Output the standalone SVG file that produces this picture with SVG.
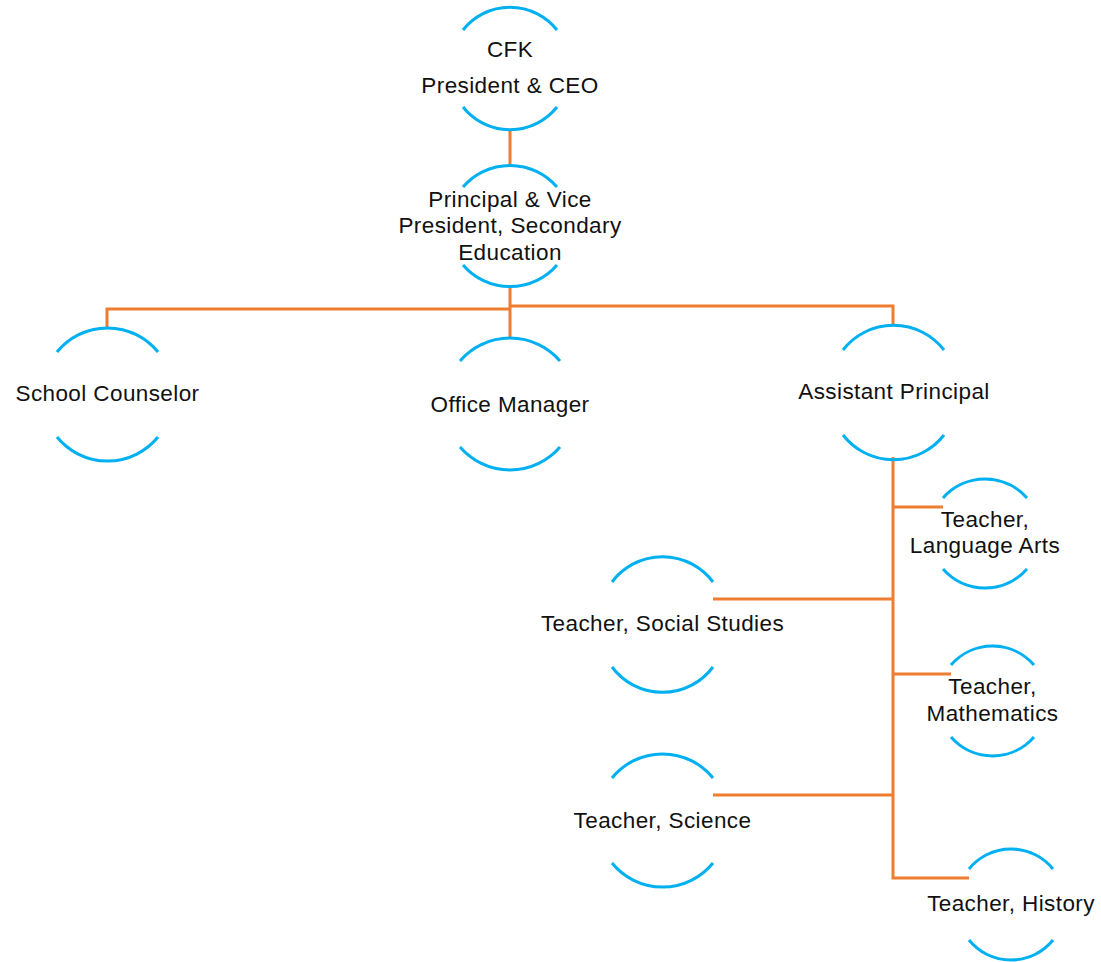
<svg xmlns="http://www.w3.org/2000/svg" width="1101" height="962" viewBox="0 0 1101 962">
<style>
.arc{fill:none;stroke:#00B0F0;stroke-width:3}
.con{fill:none;stroke:#ED7D31;stroke-width:3}
text{font-family:"Liberation Sans",Arial,sans-serif;font-size:22.5px;letter-spacing:0.4px;fill:#111;text-anchor:middle}
</style>
<rect width="1101" height="962" fill="#fff"/>
<g id="connectors">
<path class="con" d="M510 129V166"/>
<path class="con" d="M510 288V338"/>
<path class="con" d="M510 309H107V328"/>
<path class="con" d="M510 306H893V326"/>
<path class="con" d="M893 457V878H969"/>
<path class="con" d="M893 507H943"/>
<path class="con" d="M893 599H713"/>
<path class="con" d="M893 674H951"/>
<path class="con" d="M893 795H713"/>
</g>
<g id="n-cfk">
<path class="arc" d="M463 30A60 60 0 0 1 557 30"/>
<path class="arc" d="M463 107A60 60 0 0 0 557 107"/>
<text x="510" y="57">CFK</text>
<text x="510" y="93">President &amp; CEO</text>
</g>
<g id="n-principal">
<path class="arc" d="M463 187A62 62 0 0 1 557 187"/>
<path class="arc" d="M463 265A62 62 0 0 0 557 265"/>
<text x="510" y="207">Principal &amp; Vice</text>
<text x="510" y="233">President, Secondary</text>
<text x="510" y="260">Education</text>
</g>
<g id="n-counselor">
<path class="arc" d="M57 352A65 65 0 0 1 158 352"/>
<path class="arc" d="M57 437A65 65 0 0 0 158 437"/>
<text x="107.5" y="401">School Counselor</text>
</g>
<g id="n-office">
<path class="arc" d="M460 361A66 66 0 0 1 560 361"/>
<path class="arc" d="M460 447A66 66 0 0 0 560 447"/>
<text x="510" y="412">Office Manager</text>
</g>
<g id="n-assistant">
<path class="arc" d="M843 350A64 64 0 0 1 944 350"/>
<path class="arc" d="M843 435A64 64 0 0 0 944 435"/>
<text x="894" y="399">Assistant Principal</text>
</g>
<g id="n-language">
<path class="arc" d="M943 498A56 56 0 0 1 1027 498"/>
<path class="arc" d="M943 569A56 56 0 0 0 1027 569"/>
<text x="985" y="527">Teacher,</text>
<text x="985" y="553">Language Arts</text>
</g>
<g id="n-social">
<path class="arc" d="M612 582A63 63 0 0 1 713 582"/>
<path class="arc" d="M612 667A63 63 0 0 0 713 667"/>
<text x="662.5" y="631">Teacher, Social Studies</text>
</g>
<g id="n-math">
<path class="arc" d="M951 665A55 55 0 0 1 1034 665"/>
<path class="arc" d="M951 737A55 55 0 0 0 1034 737"/>
<text x="992.5" y="694">Teacher,</text>
<text x="992.5" y="721">Mathematics</text>
</g>
<g id="n-science">
<path class="arc" d="M612 778A65 65 0 0 1 713 778"/>
<path class="arc" d="M612 863A65 65 0 0 0 713 863"/>
<text x="662.5" y="828">Teacher, Science</text>
</g>
<g id="n-history">
<path class="arc" d="M969 869A54 54 0 0 1 1053 869"/>
<path class="arc" d="M969 940A54 54 0 0 0 1053 940"/>
<text x="1011" y="911">Teacher, History</text>
</g>
</svg>
